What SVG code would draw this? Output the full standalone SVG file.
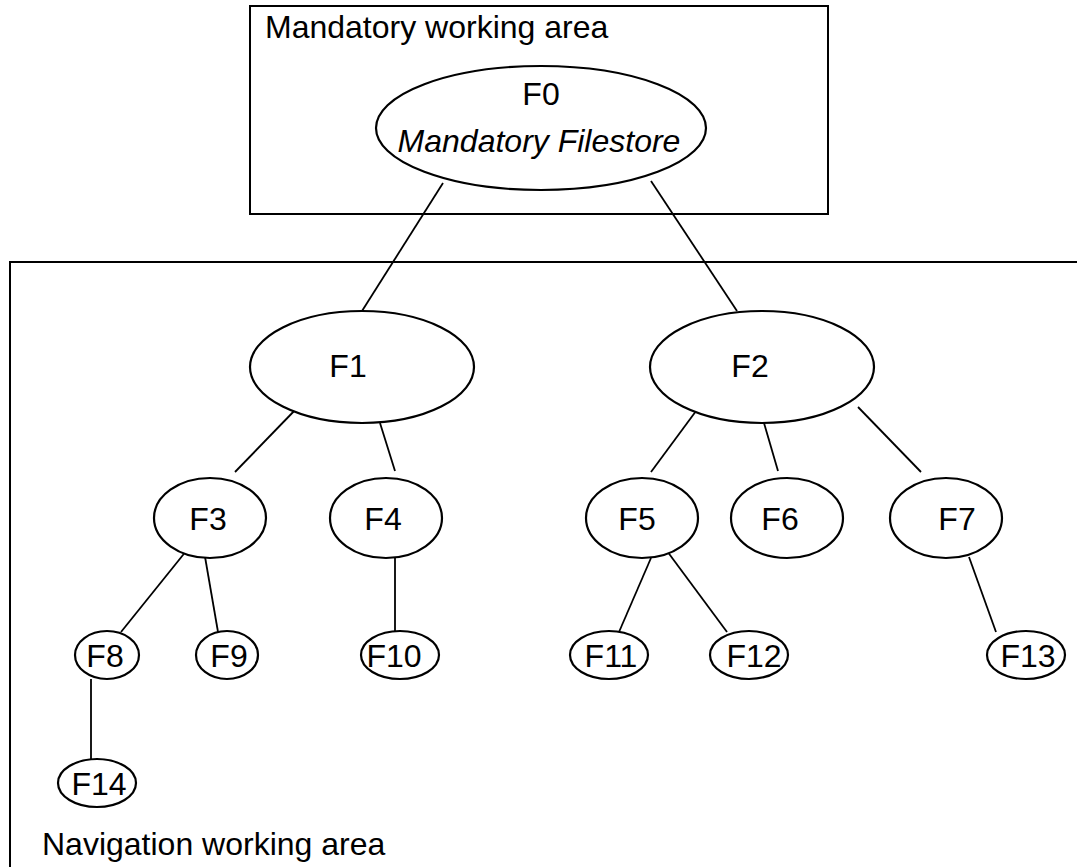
<svg xmlns="http://www.w3.org/2000/svg" width="1077" height="867" viewBox="0 0 1077 867">
  <style>
    .area { fill: none; stroke: #000; stroke-width: 2; }
    .node ellipse { fill: #fff; stroke: #000; stroke-width: 2.2; }
    .edges line { stroke: #000; stroke-width: 1.8; }
    text { font-family: "Liberation Sans", Arial, sans-serif; font-size: 32px; fill: #000; }
    .lbl { text-anchor: middle; }
    .it { font-style: italic; }
  </style>
  <rect width="1077" height="867" fill="#fff"/>

  <!-- working areas -->
  <g id="mandatory-area">
    <rect class="area" x="250" y="6" width="578" height="208"/>
    <text x="265" y="38">Mandatory working area</text>
  </g>
  <g id="navigation-area">
    <polyline class="area" points="1077,262 10,262 10,867"/>
    <text x="42" y="855">Navigation working area</text>
  </g>

  <!-- connectors -->
  <g class="edges">
    <line x1="443" y1="183" x2="362" y2="311"/>
    <line x1="651" y1="181" x2="737" y2="311"/>
    <line x1="298" y1="407" x2="235" y2="472"/>
    <line x1="380" y1="423" x2="395" y2="471"/>
    <line x1="699" y1="407" x2="651" y2="472"/>
    <line x1="764" y1="423" x2="778" y2="471"/>
    <line x1="858" y1="407" x2="921" y2="472"/>
    <line x1="187" y1="550" x2="121" y2="632"/>
    <line x1="204" y1="551" x2="218" y2="632"/>
    <line x1="395" y1="558" x2="395" y2="632"/>
    <line x1="651" y1="558" x2="619" y2="632"/>
    <line x1="667" y1="551" x2="727" y2="632"/>
    <line x1="969" y1="557" x2="996" y2="632"/>
    <line x1="91" y1="679" x2="91" y2="759"/>
  </g>

  <!-- nodes -->
  <g id="F0" class="node">
    <ellipse cx="541" cy="128" rx="165" ry="62" style="fill:none"/>
    <text class="lbl" x="541" y="105">F0</text>
    <text class="lbl it" x="539" y="152">Mandatory Filestore</text>
  </g>
  <g id="F1" class="node">
    <ellipse cx="362" cy="367" rx="112" ry="56"/>
    <text class="lbl" x="348" y="377">F1</text>
  </g>
  <g id="F2" class="node">
    <ellipse cx="762" cy="367" rx="112" ry="56"/>
    <text class="lbl" x="750" y="377">F2</text>
  </g>
  <g id="F3" class="node">
    <ellipse cx="210" cy="518" rx="56" ry="40"/>
    <text class="lbl" x="208" y="530">F3</text>
  </g>
  <g id="F4" class="node">
    <ellipse cx="386" cy="518" rx="56" ry="40"/>
    <text class="lbl" x="383" y="530">F4</text>
  </g>
  <g id="F5" class="node">
    <ellipse cx="642" cy="518" rx="56" ry="40"/>
    <text class="lbl" x="637" y="530">F5</text>
  </g>
  <g id="F6" class="node">
    <ellipse cx="787" cy="518" rx="56" ry="40"/>
    <text class="lbl" x="780" y="530">F6</text>
  </g>
  <g id="F7" class="node">
    <ellipse cx="946" cy="518" rx="56" ry="40"/>
    <text class="lbl" x="957" y="530">F7</text>
  </g>
  <g id="F8" class="node">
    <ellipse cx="107" cy="655" rx="32" ry="24"/>
    <text class="lbl" x="105" y="667">F8</text>
  </g>
  <g id="F9" class="node">
    <ellipse cx="227" cy="655" rx="31" ry="24"/>
    <text class="lbl" x="229" y="667">F9</text>
  </g>
  <g id="F10" class="node">
    <ellipse cx="400" cy="655" rx="39" ry="24"/>
    <text class="lbl" x="394" y="667">F10</text>
  </g>
  <g id="F11" class="node">
    <ellipse cx="609" cy="655" rx="39" ry="24"/>
    <text class="lbl" x="611" y="667">F11</text>
  </g>
  <g id="F12" class="node">
    <ellipse cx="749" cy="655" rx="39" ry="24"/>
    <text class="lbl" x="754" y="667">F12</text>
  </g>
  <g id="F13" class="node">
    <ellipse cx="1026" cy="655" rx="39" ry="24"/>
    <text class="lbl" x="1028" y="667">F13</text>
  </g>
  <g id="F14" class="node">
    <ellipse cx="97" cy="783" rx="39" ry="24"/>
    <text class="lbl" x="99" y="795">F14</text>
  </g>
</svg>
